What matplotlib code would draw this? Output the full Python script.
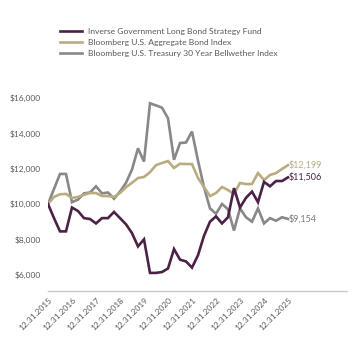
import matplotlib
matplotlib.use("Agg")
import matplotlib.pyplot as plt

plt.rcParams['font.family'] = ['Lato', 'DejaVu Sans']

years = ["12.31.2015", "12.31.2016", "12.31.2017", "12.31.2018", "12.31.2019",
         "12.31.2020", "12.31.2021", "12.31.2022", "12.31.2023", "12.31.2024",
         "12.31.2025"]

series_names = ["Inverse Government Long Bond Strategy Fund",
                "Bloomberg U.S. Aggregate Bond Index",
                "Bloomberg U.S. Treasury 30 Year Bellwether Index"]

fund = [10000, 9200, 8450, 8450, 9800, 9600, 9200, 9150, 8900, 9200,
        9200, 9550, 9200, 8850, 8350, 7600, 8000, 6100, 6100, 6150,
        6350, 7450, 6850, 6750, 6400, 7100, 8200, 9000, 9300, 8900,
        9250, 10900, 9800, 10350, 10700, 10100, 11250, 11000, 11300, 11300,
        11506]

agg = [10000, 10400, 10550, 10570, 10340, 10400, 10520, 10620, 10620, 10450,
       10450, 10400, 10620, 10950, 11200, 11470, 11530, 11800, 12200, 12320,
       12430, 12040, 12280, 12260, 12260, 11470, 10960, 10450, 10620, 10960,
       10790, 10570, 11190, 11130, 11130, 11750, 11360, 11640, 11750, 11980,
       12199]

tsy = [10000, 10850, 11700, 11700, 10100, 10250, 10600, 10650, 11000, 10600,
       10650, 10300, 10700, 11200, 11950, 13150, 12400, 15700, 15580, 15450,
       14850, 12500, 13450, 13480, 14100, 12450, 10950, 9750, 9450, 10000,
       9700, 8500, 9750, 9250, 9000, 9750, 8900, 9200, 9050, 9250,
       9154]

end_labels = ["$11,506", "$12,199", "$9,154"]
yticks = [6000, 8000, 10000, 12000, 14000, 16000]

colors = ["#4B2145", "#B8AC80", "#88888B"]
text_gray = "#595959"

fig = plt.figure(figsize=(3.48, 3.40), dpi=100)
ax = fig.add_axes([48/348, 49/340, 300/348, (291-85.6)/340])

x = list(range(len(fund)))
data = [fund, agg, tsy]
order = [2, 1, 0]
for k in order:
    ax.plot(x, data[k], color=colors[k], lw=1.9, solid_joinstyle='miter',
            label=series_names[k], zorder=3 + (k == 0))

for k in range(3):
    ax.text(x[-1] + 0.15, data[k][-1], end_labels[k], color=colors[k] if k != 2 else "#7a7a7d",
            fontsize=6.5, va='center', ha='left')

ax.set_xlim(0, 50)
ax.set_ylim(5076, 16700)
ax.set_yticks(yticks)
ax.set_yticklabels([f"${v:,.0f}" for v in yticks], color=text_gray, fontsize=6.0)
ax.set_xticks(range(0, 41, 4))
ax.set_xticklabels(years, rotation=45, ha='right', rotation_mode='anchor',
                   color=text_gray, fontsize=6.0)
ax.tick_params(axis='both', length=0)
ax.tick_params(axis='y', pad=5)
ax.tick_params(axis='x', pad=4)
for s in ['top', 'right', 'left']:
    ax.spines[s].set_visible(False)
ax.spines['bottom'].set_color("#C8C8C8")
ax.spines['bottom'].set_linewidth(1.0)

handles, labels = ax.get_legend_handles_labels()
hmap = dict(zip(labels, handles))
leg = fig.legend([hmap[n] for n in series_names], series_names,
                 loc='upper left', bbox_to_anchor=(57/348, 1 - 25/340),
                 frameon=False, fontsize=6.1, handlelength=2.6,
                 handletextpad=0.7, labelspacing=0.45, borderaxespad=0)
for t in leg.get_texts():
    t.set_color(text_gray)

fig.savefig("out.png", dpi=100)
